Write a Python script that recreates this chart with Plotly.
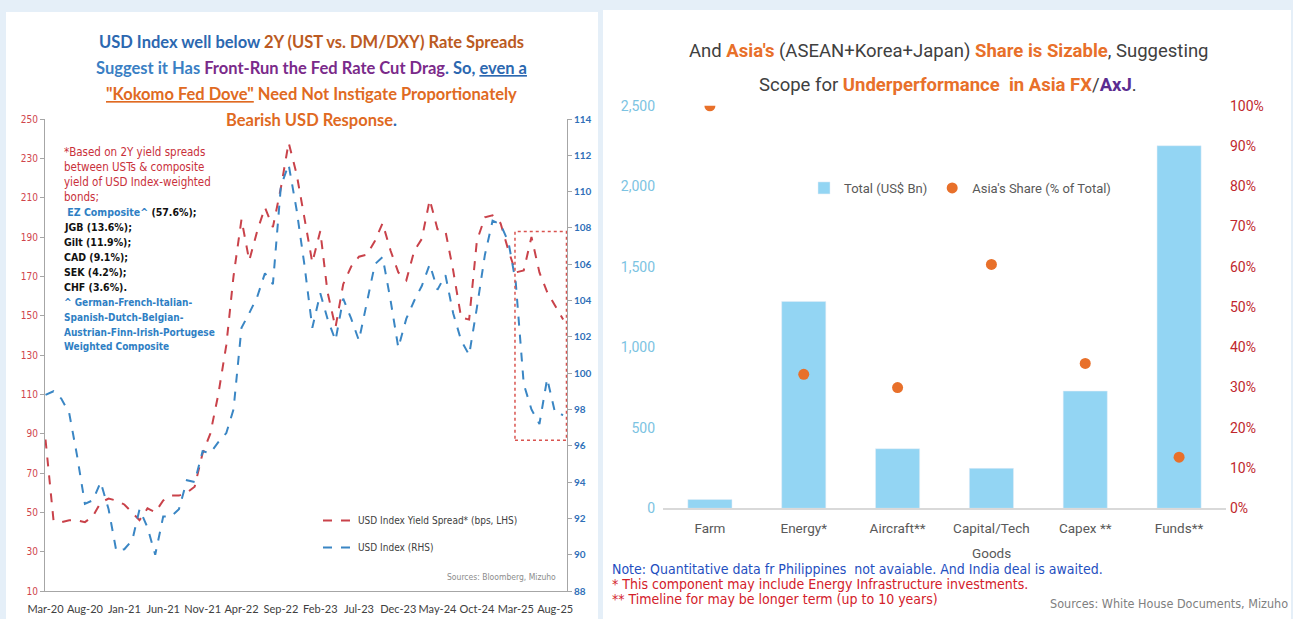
import plotly.graph_objects as go
import pandas as pd

W, H = 1293, 619

# ---------------- Left chart data ----------------
months = pd.date_range("2020-03-01", periods=67, freq="MS")
spread_bps = [87, 46, 45, 46, 46, 45, 48, 55, 57, 56, 54, 50, 46, 52, 50, 56, 58.5, 58.5, 60, 63,
              80, 90, 110, 135, 170, 199, 178, 193, 205, 195, 215, 238, 222, 200, 177, 193, 162, 144,
              166, 175, 180, 181, 188, 197, 183, 172, 168, 183, 189, 209, 194, 193, 173, 149, 148,
              188, 200, 201, 197, 183, 172, 173, 190, 172, 162, 155, 148]
usd_index = [98.8, 99.0, 98.6, 97.8, 95.5, 92.8, 93.0, 94.0, 92.5, 90.2, 90.3, 90.8, 92.5, 91.5,
             90.0, 92.1, 92.1, 92.5, 94.1, 94.0, 95.7, 95.6, 96.2, 96.7, 98.0, 102.5, 103.3, 104.2,
             105.5, 104.9, 110.3, 111.5, 109.0, 106.0, 102.5, 104.4, 103.0, 101.8, 104.1, 103.0,
             101.8, 104.0, 106.0, 106.4, 104.0, 101.4, 103.0, 104.0, 104.8, 106.0, 104.6, 105.4,
             103.3, 101.8, 101.0, 103.6, 106.5, 108.4, 108.2, 107.2, 105.0, 99.4, 98.0, 97.2, 99.7,
             97.8, 97.7]
tick_dates = pd.date_range("2020-03-01", periods=14, freq="5MS")
tick_text = ["Mar-20", "Aug-20", "Jan-21", "Jun-21", "Nov-21", "Apr-22", "Sep-22", "Feb-23",
             "Jul-23", "Dec-23", "May-24", "Oct-24", "Mar-25", "Aug-25"]

# ---------------- Right chart data ----------------
categories = ["Farm", "Energy*", "Aircraft**", "Capital/Tech Goods", "Capex **", "Funds**"]
category_ticks = ["Farm", "Energy*", "Aircraft**", "Capital/Tech", "Capex **", "Funds**"]
total_bn = [55, 1285, 370, 248, 728, 2252]
asia_share = [1.00, 0.333, 0.30, 0.606, 0.36, 0.127]


def px(x):
    return x / W


def py(y):
    return 1 - y / H


RED = "#c9424a"
BLUE = "#3a86c4"
NARROW = "Liberation Sans Narrow, DejaVu Sans Condensed, Arial Narrow, sans-serif"

fig = go.Figure()

fig.add_trace(go.Scatter(
    x=months, y=spread_bps, mode="lines", name="USD Index Yield Spread* (bps, LHS)",
    line=dict(color=RED, width=2, dash="dash"), xaxis="x", yaxis="y",
    legend="legend", legendgroup="a"))
fig.add_trace(go.Scatter(
    x=months, y=usd_index, mode="lines", name="USD Index (RHS)",
    line=dict(color=BLUE, width=2, dash="dash"), xaxis="x", yaxis="y2",
    legend="legend", legendgroup="b"))

fig.add_trace(go.Bar(
    x=categories, y=total_bn, name="Total (US$ Bn)", marker=dict(color="#93d5f3"),
    xaxis="x2", yaxis="y3", legend="legend2"))
fig.add_trace(go.Scatter(
    x=categories, y=asia_share, mode="markers", name="Asia's Share (% of Total)",
    marker=dict(color="#e8702a", size=11), xaxis="x2", yaxis="y4", legend="legend2"))

axis_grey = "#a6a6a6"

fig.update_layout(
    width=W, height=H, margin=dict(l=0, r=0, t=0, b=0, pad=0, autoexpand=False),
    paper_bgcolor="#e5eff8", plot_bgcolor="rgba(0,0,0,0)",
    bargap=0.53,
    xaxis=dict(domain=[px(45), px(567)], anchor="y", type="date", automargin=False,
               range=["2020-02-28", "2025-09-16"], tickvals=tick_dates, ticktext=tick_text,
               tickangle=0,
               showline=True, linecolor=axis_grey, linewidth=1, showgrid=False, zeroline=False,
               ticks="", ticklabelstandoff=8,
               tickfont=dict(family="Lato", size=11, color="#404040")),
    yaxis=dict(domain=[py(591), py(119)], anchor="x", range=[10, 250], tick0=10, dtick=20,
               automargin=False,
               showline=True, linecolor=axis_grey, showgrid=False, zeroline=False,
               ticks="outside", ticklen=4, tickcolor=axis_grey,
               tickfont=dict(family=NARROW, size=10, color="#d0454b")),
    yaxis2=dict(overlaying="y", side="right", anchor="x", range=[88, 114], dtick=2,
                automargin=False,
                showline=True, linecolor=axis_grey, showgrid=False, zeroline=False,
                ticks="outside", ticklen=4, tickcolor=axis_grey,
                tickfont=dict(family="Lato", size=10, color="#2f6fb8", weight="bold")),
    xaxis2=dict(domain=[px(663), px(1226)], anchor="y3", type="category", automargin=False,
                tickvals=categories, ticktext=category_ticks, ticklabelstandoff=7, tickangle=0,
                showline=True, linecolor="#d9d9d9", linewidth=1.5, showgrid=False, ticks="",
                tickfont=dict(family="Roboto", size=13.5, color="#595959")),
    yaxis3=dict(domain=[py(508.3), py(105.8)], anchor="x2", range=[0, 2500], dtick=500,
                automargin=False, ticklabelstandoff=7,
                tickformat=",", showline=False, showgrid=False, zeroline=False,
                tickfont=dict(family="Roboto", size=14, color="#7cc3e2")),
    yaxis4=dict(overlaying="y3", side="right", anchor="x2", range=[0, 1], dtick=0.1,
                automargin=False, ticklabelstandoff=3,
                tickformat=".0%", showline=False, showgrid=False, zeroline=False,
                tickfont=dict(family="Roboto", size=14, color="#c0272d")),
    legend=dict(x=px(318), y=py(506), xanchor="left", yanchor="top", orientation="v",
                bgcolor="rgba(0,0,0,0)", tracegroupgap=8,
                font=dict(family=NARROW, size=10, color="#404040")),
    legend2=dict(x=px(960), y=py(188), xanchor="center", yanchor="middle", orientation="h",
                 bgcolor="rgba(0,0,0,0)",
                 font=dict(family="Roboto", size=13, color="#595959")),
    showlegend=True,
)

# Panels
fig.add_shape(type="rect", xref="paper", yref="paper", x0=px(6), x1=px(598), y0=0, y1=py(12),
              fillcolor="white", line=dict(width=0), layer="below")
fig.add_shape(type="rect", xref="paper", yref="paper", x0=px(603), x1=px(1291), y0=0, y1=py(10),
              fillcolor="white", line=dict(width=0), layer="below")

# Highlight box
fig.add_shape(type="rect", xref="x", yref="y2", x0="2025-02-26", x1="2025-09-14", y0=96.3, y1=107.8,
              line=dict(color="#d9534f", width=1.5, dash="dot"), fillcolor="rgba(0,0,0,0)")

# Second line of the Capital/Tech Goods category label
fig.add_annotation(x=categories[3], y=py(553), xref="x2", yref="paper", text="Goods",
                   showarrow=False, xanchor="center", yanchor="middle",
                   font=dict(family="Roboto", size=13.5, color="#595959"))

# Left title
TF = "Lato"
title_lines = [
    (42, "<span style='color:#2c68b0'>USD Index well below </span>"
         "<span style='color:#bb5a22'>2Y (UST vs. DM/DXY) Rate Spreads</span>"),
    (68, "<span style='color:#3a7fc4'>Suggest it Has </span>"
         "<span style='color:#7a2a8a'>Front-Run the Fed Rate Cut Drag</span>"
         "<span style='color:#2c68b0'>. So, </span>"
         "<span style='color:#2c68b0'><u>even a</u></span>"),
    (94, "<span style='color:#e06a22'><u>\"Kokomo Fed Dove\"</u> Need Not Instigate Proportionately</span>"),
    (120, "<span style='color:#e06a22'>Bearish USD Response</span><span style='color:#2c68b0'>.</span>"),
]
for y, t in title_lines:
    fig.add_annotation(x=px(311), y=py(y), xref="paper", yref="paper", text="<b>" + t + "</b>",
                       showarrow=False, xanchor="center", yanchor="middle",
                       font=dict(family=TF, size=16.5))

# Left note box
note_lines = [
    ("<span style='color:#c9303a'>*Based on 2Y yield spreads</span>", 11.5),
    ("<span style='color:#c9303a'>between USTs &amp; composite</span>", 11.5),
    ("<span style='color:#c9303a'>yield of USD Index-weighted</span>", 11.5),
    ("<span style='color:#c9303a'>bonds;</span>", 11.5),
    ("<b><span style='color:#2f7fc4'> EZ Composite^</span> <span style='color:#111'>(57.6%);</span></b>", 10.5),
    ("<b><span style='color:#111'>JGB (13.6%);</span></b>", 10.5),
    ("<b><span style='color:#111'>Gilt (11.9%);</span></b>", 10.5),
    ("<b><span style='color:#111'>CAD (9.1%);</span></b>", 10.5),
    ("<b><span style='color:#111'>SEK (4.2%);</span></b>", 10.5),
    ("<b><span style='color:#111'>CHF (3.6%).</span></b>", 10.5),
    ("<b><span style='color:#2f7fc4'>^ German-French-Italian-</span></b>", 10),
    ("<b><span style='color:#2f7fc4'>Spanish-Dutch-Belgian-</span></b>", 10),
    ("<b><span style='color:#2f7fc4'>Austrian-Finn-Irish-Portugese</span></b>", 10),
    ("<b><span style='color:#2f7fc4'>Weighted Composite</span></b>", 10),
]
for i, (t, s) in enumerate(note_lines):
    fig.add_annotation(x=px(62), y=py(152 + i * 15), xref="paper", yref="paper", text=t,
                       showarrow=False, xanchor="left", yanchor="middle",
                       font=dict(family=NARROW, size=s))

fig.add_annotation(x=px(558), y=py(577), xref="paper", yref="paper",
                   text="Sources: Bloomberg, Mizuho", showarrow=False, xanchor="right",
                   yanchor="middle", font=dict(family=NARROW, size=8.5, color="#8c8c8c"))

# Right title
OR = "#e8702a"
rt1 = ("<span style='color:#404040'>And </span><b><span style='color:%s'>Asia's</span></b>"
       "<span style='color:#404040'> (ASEAN+Korea+Japan) </span>"
       "<b><span style='color:%s'>Share is Sizable</span></b>"
       "<span style='color:#404040'>, Suggesting</span>") % (OR, OR)
rt2 = ("<span style='color:#404040'>Scope for </span>"
       "<b><span style='color:%s'>Underperformance  in Asia FX</span></b>"
       "<span style='color:#404040'>/</span><b><span style='color:#5b2d91'>AxJ</span></b>"
       "<span style='color:#404040'>.</span>") % OR
for y, t in [(51, rt1), (85, rt2)]:
    fig.add_annotation(x=px(948), y=py(y), xref="paper", yref="paper", text=t, showarrow=False,
                       xanchor="center", yanchor="middle", font=dict(family="Roboto", size=18.5))

# Right notes
notes = [
    (569, "#1f4fbf", "Note: Quantitative data fr Philippines  not avaiable. And India deal is awaited."),
    (584, "#d3202a", "* This component may include Energy Infrastructure investments."),
    (599, "#d3202a", "** Timeline for may be longer term (up to 10 years)"),
]
for y, c, t in notes:
    fig.add_annotation(x=px(610), y=py(y), xref="paper", yref="paper", text=t, showarrow=False,
                       xanchor="left", yanchor="middle", font=dict(family=NARROW, size=14, color=c))
fig.add_annotation(x=px(1290), y=py(603), xref="paper", yref="paper",
                   text="Sources: White House Documents, Mizuho", showarrow=False,
                   xanchor="right", yanchor="middle", font=dict(family=NARROW, size=12.5, color="#808080"))

fig.write_html("out.html")
